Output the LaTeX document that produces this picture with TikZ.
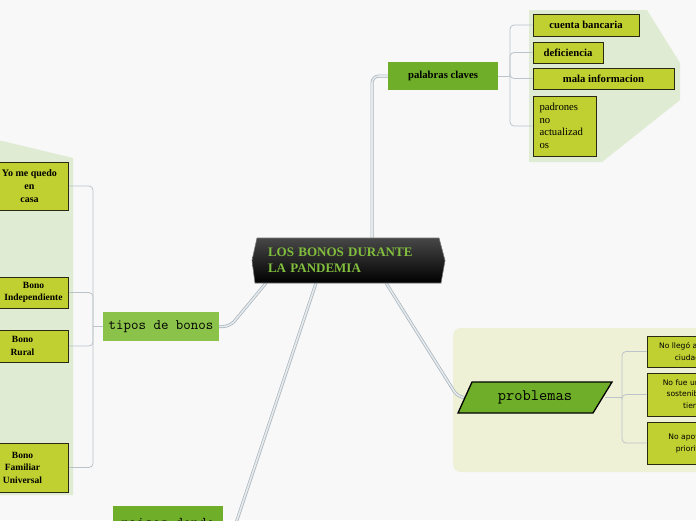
\documentclass[tikz,border=0pt]{standalone}
\usepackage{fontspec}
\setmainfont{Liberation Serif}
\newfontfamily\vsans{DejaVu Sans}
\usetikzlibrary{calc}
\definecolor{bgc}{HTML}{F8F8F8}
\definecolor{dgreen}{HTML}{6FAE28}
\definecolor{lgreen}{HTML}{8BC34A}
\definecolor{leafc}{HTML}{C0D030}
\definecolor{leafb}{HTML}{2A2A12}
\definecolor{grpa}{HTML}{DFEBD3}
\definecolor{grpb}{HTML}{EEF1D5}
\definecolor{trk}{HTML}{A8B3BC}
\definecolor{trkin}{HTML}{E4E9EC}
\definecolor{brkc}{HTML}{BCC3CA}
\definecolor{ctxt}{HTML}{82BF3C}
\pgfdeclarelayer{bg}
\pgfsetlayers{bg,main}
\tikzset{
  leaf/.style={draw=leafb, fill=leafc, line width=1pt, align=center, inner sep=1pt,
    font=\bfseries\fontsize{10.7}{12.5}\selectfont},
  leafs/.style={leaf, font=\vsans\fontsize{7.6}{11.5}\selectfont},
  trunk/.style={draw=trk, double=trkin, double distance=1.6pt, line width=0.7pt, rounded corners=7pt},
  brk/.style={draw=brkc, line width=0.8pt, rounded corners=4pt},
  mainbr/.style={inner sep=0pt, align=center}
}
\begin{document}
\begin{tikzpicture}[x=1pt,y=-1pt]
\useasboundingbox (0,0) rectangle (696,520);
\begin{pgfonlayer}{bg}
\fill[bgc] (0,0) rectangle (696,520);
\fill[grpa] (529,10) -- (647,10) -- (680,63) -- (680,100) -- (602,162) -- (529,162) -- cycle;
\fill[grpa] (-10,138) -- (73,158) -- (73,495) -- (-10,495) -- cycle;
\fill[grpb, rounded corners=8pt] (453,328) rectangle (730,472);
\end{pgfonlayer}

% center
\shadedraw[top color=black!72, bottom color=black, draw=black!55, line width=0.6pt]
  (257,238) -- (439,238) -- (445,260.5) -- (441,283) -- (255,283) -- (252,260.5) -- cycle;
\node[mainbr, text width=161pt, align=left, text=ctxt, font=\bfseries\fontsize{13}{16}\selectfont]
  (ctr) at (348.5,260.5) {LOS BONOS DURANTE\\LA PANDEMIA};
\coordinate (ct1) at (372,238);
\coordinate (ct2) at (266,283);
\coordinate (ct3) at (386,283);
\coordinate (ct4) at (316,283);

% main branches
\node[fill=dgreen, minimum width=110pt, minimum height=28pt, inner sep=0pt,
  font=\bfseries\fontsize{10.7}{12}\selectfont] (pal) at (443,76) {palabras claves};
\node[fill=lgreen, minimum width=116pt, minimum height=29pt, inner sep=0pt,
  font=\ttfamily\fontsize{14.5}{16}\selectfont] (tip) at (161,326.5) {tipos de bonos};
\filldraw[fill=dgreen, draw=black, line width=1.3pt] (458,413) -- (472,382) -- (612,382) -- (593,413) -- cycle;
\node[minimum width=140pt, minimum height=31pt, inner sep=0pt,
  font=\ttfamily\fontsize{16}{18}\selectfont] (prob) at (535,397.5) {problemas};
\node[fill=dgreen, minimum width=110pt, minimum height=38pt, inner sep=0pt,
  font=\ttfamily\fontsize{15}{17}\selectfont] (pai) at (168,525) {paises donde};

% leaves: palabras claves
\node[leaf, minimum width=106pt, minimum height=22pt] (cb) at (586,25) {cuenta bancaria};
\node[leaf, minimum width=70pt, minimum height=21pt] (def) at (568,52.5) {deficiencia};
\node[leaf, minimum width=141pt, minimum height=21pt] (mala) at (603.5,78.5) {mala informacion};
\node[leaf, minimum width=63pt, minimum height=60pt, text width=50pt, align=left,
  font=\fontsize{10.7}{12.5}\selectfont] (pad) at (564.5,126) {padrones\\no\\actualizad\\os};

% leaves: tipos de bonos
\node[leaf, minimum width=78pt, minimum height=48pt, font=\bfseries\fontsize{10}{13}\selectfont] (yo) at (29.5,186) {Yo me quedo\\en\\casa};
\node[leaf, minimum width=69pt, minimum height=31pt, font=\bfseries\fontsize{9.5}{12.5}\selectfont] (ind) at (33.5,292.5) {Bono\\Independiente};
\node[leaf, minimum width=91pt, minimum height=32pt, font=\bfseries\fontsize{9.5}{12.5}\selectfont] (rur) at (22.5,346) {Bono\\Rural};
\node[leaf, minimum width=91pt, minimum height=49pt, font=\bfseries\fontsize{9.5}{12.5}\selectfont] (fam) at (22.5,467.5) {Bono\\Familiar\\Universal};

% leaves: problemas
\node[leafs, minimum width=99pt, minimum height=31pt] (p1) at (696.5,351.5) {No llegó a todos los\\ciudadanos};
\node[leafs, minimum width=99pt, minimum height=43pt] (p2) at (696.5,394.5) {No fue una ayuda\\sostenible en el\\tiempo};
\node[leafs, minimum width=99pt, minimum height=42pt] (p3) at (696.5,443) {No apoyó a los\\prioritarios};

% connectors
\begin{pgfonlayer}{bg}
\draw[trunk] (ct1) |- (pal.west);
\draw[trunk] (ct2) -- (230,326.5) -- (tip.east);
\draw[trunk] (ct3) -- (458,397.5) -- (prob.west);
\draw[trunk] (ct4) -- (230,541) -- (pai.east);

\coordinate (jp) at (510,76);
\draw[brk] (pal.east) -- (jp);
\draw[brk] (jp) |- (cb.west);
\draw[brk] (jp) |- (def.west);
\draw[brk] (jp) |- (mala.west);
\draw[brk] (jp) |- (pad.west);

\coordinate (jt) at (93,326.5);
\draw[brk] (tip.west) -- (jt);
\draw[brk] (jt) |- (yo.east);
\draw[brk] (jt) |- (ind.east);
\draw[brk] (jt) |- (rur.east);
\draw[brk] (jt) |- (fam.east);

\coordinate (jq) at (622,397.5);
\draw[brk] (prob.east) -- (jq);
\draw[brk] (jq) |- (p1.west);
\draw[brk] (jq) |- (p2.west);
\draw[brk] (jq) |- (p3.west);
\end{pgfonlayer}
\end{tikzpicture}
\end{document}
